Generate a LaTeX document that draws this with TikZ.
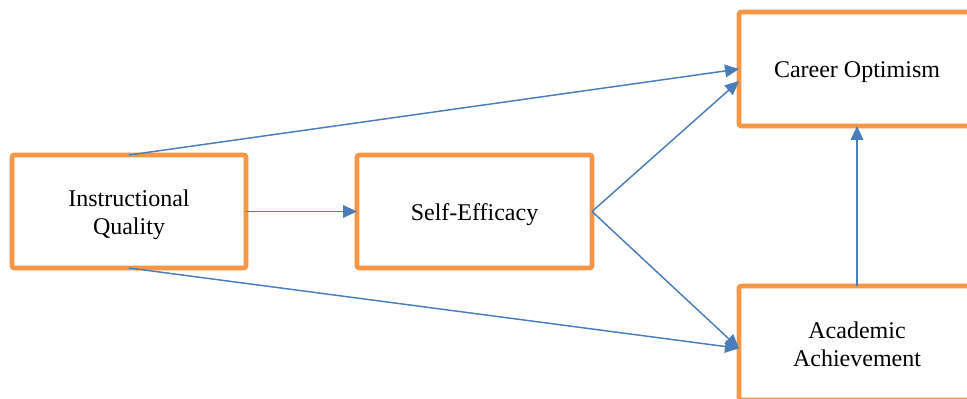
\documentclass[tikz,border=0pt]{standalone}
\usepackage{fontspec}
\setmainfont{Liberation Serif}
\usetikzlibrary{arrows.meta}
\definecolor{boxorange}{HTML}{F79646}
\definecolor{arrowblue}{HTML}{4A7EBB}
\tikzset{
  factor/.style={draw=boxorange, line width=3.4pt, rounded corners=1.5pt, fill=white,
    inner sep=0pt, outer sep=0pt},
  factortext/.style={align=center, inner sep=0pt, yshift=-2.4pt,
    font=\fontsize{18}{21}\selectfont},
  link/.style={draw=arrowblue, line width=1.1pt, -{Triangle[length=10.5pt,width=9.5pt]}},
}
\begin{document}
\begin{tikzpicture}[x=0.75pt,y=-0.75pt]
\useasboundingbox (0,0) rectangle (967,399);
\node[factor, minimum width=175.5pt, minimum height=84.75pt] (iq) at (129,211.5) {};
\node[factortext] (iqt) at (iq.center) {Instructional\\Quality};
\node[factor, minimum width=176.25pt, minimum height=84.75pt] (se) at (474.5,211.5) {};
\node[factortext] (set) at (se.center) {Self-Efficacy};
\node[factor, minimum width=177pt, minimum height=85.5pt] (co) at (857,69) {};
\node[factortext] (cot) at (co.center) {Career Optimism};
\node[factor, minimum width=177pt, minimum height=85.5pt] (aa) at (857,343) {};
\node[factortext, yshift=1.5pt] (aat) at (aa.center) {Academic\\Achievement};
\coordinate (coa) at ([yshift=-9pt]co.west);
\coordinate (aatip) at ([yshift=-4pt]aa.west);
\draw[link] (iq.north) -- (co.west);
\draw[link] (iq.east) -- (se.west);
\draw[link] (se.east) -- (coa);
\draw[link] (se.east) -- (aatip);
\draw[link] (iq.south) -- (aatip);
\draw[link] (aa.north) -- (co.south);
\end{tikzpicture}
\end{document}
